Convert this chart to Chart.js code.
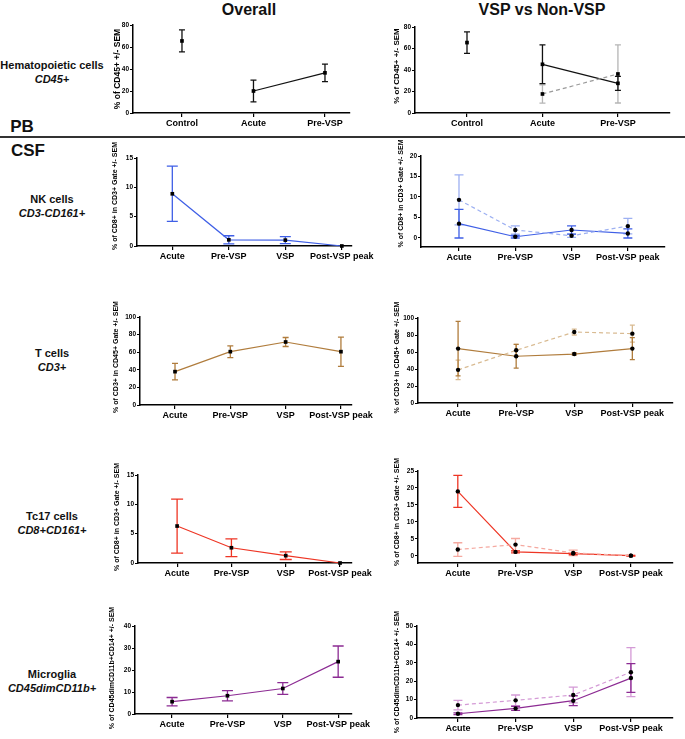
<!DOCTYPE html>
<html><head><meta charset="utf-8">
<script src="https://cdn.jsdelivr.net/npm/chart.js@4/dist/chart.umd.min.js"></script>
<style>
body{margin:0;background:#fff;width:685px;height:739px;position:relative;overflow:hidden;font-family:"Liberation Sans",Arial,sans-serif;}
canvas{position:absolute;}
.lbl{position:absolute;transform:translate(-50%,-50%);text-align:center;white-space:nowrap;font-weight:bold;color:#111;}
.row{font-size:11px;line-height:13.5px;}
.row i{font-style:italic;}
</style></head><body>
<div class="lbl" style="left:249px;top:10px;font-size:16px">Overall</div>
<div class="lbl" style="left:542px;top:10px;font-size:16px">VSP vs Non-VSP</div>
<div class="lbl row" style="left:52px;top:72px">Hematopoietic cells<br><i>CD45+</i></div>
<div class="lbl" style="left:22px;top:127px;font-size:17px">PB</div>
<div style="position:absolute;left:0;top:136px;width:685px;height:1.5px;background:#333"></div>
<div class="lbl" style="left:28px;top:151px;font-size:17px">CSF</div>
<div class="lbl row" style="left:52px;top:206px">NK cells<br><i>CD3-CD161+</i></div>
<div class="lbl row" style="left:52px;top:360px">T cells<br><i>CD3+</i></div>
<div class="lbl row" style="left:52px;top:523px">Tc17 cells<br><i>CD8+CD161+</i></div>
<div class="lbl row" style="left:52px;top:681px">Microglia<br><i>CD45dimCD11b+</i></div>
<script>
// ---------- DATA ----------
const pbCategories = ['Control', 'Acute', 'Pre-VSP'];
const csfCategories = ['Acute', 'Pre-VSP', 'VSP', 'Post-VSP peak'];

const pbTicks = [0, 20, 40, 60, 80];
const nkOverallTicks = [0, 5, 10, 15];
const nkVspTicks = [0, 5, 10, 15, 20];
const tTicks = [0, 20, 40, 60, 80, 100];
const tc17OverallTicks = [0, 5, 10, 15];
const tc17VspTicks = [0, 5, 10, 15, 20, 25];
const microOverallTicks = [0, 10, 20, 30, 40];
const microVspTicks = [0, 10, 20, 30, 40, 50];

// PB hematopoietic cells (CD45+)
const pbControlMean = [65.5, null, null];
const pbControlSem = [10, null, null];
const pbOverallMean = [null, 20, 36.5];
const pbOverallSem = [null, 9.8, 8];
const pbVspMean = [null, 45.3, 27.6];
const pbVspSem = [null, 18, 6.5];
const pbNonVspMean = [null, 17.7, 36.3];
const pbNonVspSem = [null, 8.5, 27];

// CSF NK cells
const nkOverallMean = [8.9, 1.05, 1.0, 0];
const nkOverallSem = [4.7, 0.7, 0.6, 0];
const nkVspMean = [3.5, 0.3, 1.95, 1.1];
const nkVspSem = [3.5, 0.3, 1.0, 1.1];
const nkNonVspMean = [9.3, 1.95, 0.55, 2.9];
const nkNonVspSem = [6.1, 1.0, 0.4, 1.9];

// CSF T cells
const tOverallMean = [37.9, 60.6, 71.6, 60.6];
const tOverallSem = [9.3, 6.7, 5.1, 16.6];
const tVspMean = [64, 55, 57.6, 64];
const tVspSem = [32, 14, 1.2, 13];
const tNonVspMean = [39, 62, 83.5, 81.6];
const tNonVspSem = [11.5, 7, 3.5, 10];

// CSF Tc17 cells
const tc17OverallMean = [6.3, 2.6, 1.25, 0];
const tc17OverallSem = [4.6, 1.5, 0.65, 0];
const tc17VspMean = [19, 1.2, 0.7, 0.1];
const tc17VspSem = [4.7, 0.3, 0.3, 0.1];
const tc17NonVspMean = [1.9, 3.35, 0.9, 0.1];
const tc17NonVspSem = [2.0, 1.8, 0.8, 0.1];

// CSF Microglia
const microOverallMean = [5.6, 8.3, 11.6, 23.8];
const microOverallSem = [1.9, 2.3, 2.7, 7.1];
const microVspMean = [2.3, 5.2, 9.4, 21.7];
const microVspSem = [0.5, 1.1, 2.7, 7.8];
const microNonVspMean = [7.0, 9.6, 12.5, 24.9];
const microNonVspSem = [2.6, 2.9, 4.3, 13.3];

// ---------- RENDERING ----------
const FONT = '"Liberation Sans", Arial, sans-serif';
Chart.defaults.font.family = FONT;
Chart.defaults.color = '#000';

const errorBars = {
  id: 'errorBars',
  beforeDatasetsDraw(chart, args, opts) {
    const ctx = chart.ctx, ys = chart.scales.y;
    chart.data.datasets.forEach((ds, di) => {
      const meta = chart.getDatasetMeta(di);
      meta.data.forEach((pt, j) => {
        const raw = ds.data[j];
        if (!raw || !raw.e) return;
        const yTop = ys.getPixelForValue(raw.y + raw.e);
        const yBot = ys.getPixelForValue(raw.y - raw.e);
        const x = pt.x, c = opts.cap / 2;
        ctx.save();
        ctx.strokeStyle = ds.errColor;
        ctx.lineWidth = 1.3;
        ctx.beginPath();
        ctx.moveTo(x, yTop); ctx.lineTo(x, yBot);
        ctx.moveTo(x - c, yTop); ctx.lineTo(x + c, yTop);
        ctx.moveTo(x - c, yBot); ctx.lineTo(x + c, yBot);
        ctx.stroke();
        ctx.restore();
      });
    });
  }
};

const yTitle = {
  id: 'yTitle',
  afterDraw(chart, args, o) {
    const ca = chart.chartArea, ctx = chart.ctx;
    ctx.save();
    ctx.translate(ca.left - o.off, (ca.top + ca.bottom) / 2 + (o.dy || 0));
    ctx.rotate(-Math.PI / 2);
    ctx.font = 'bold ' + o.size + 'px ' + FONT;
    ctx.fillStyle = '#000';
    ctx.textAlign = 'center';
    ctx.textBaseline = 'middle';
    ctx.fillText(o.text, 0, 0);
    ctx.restore();
  }
};

function series(mean, sem, color, errColor, opts) {
  opts = opts || {};
  return {
    data: mean.map((v, i) => ({ x: i, y: v, e: sem[i] })).filter(p => p.y !== null),
    borderColor: color,
    errColor: errColor,
    borderWidth: 1.2,
    borderDash: opts.dashed ? [4, 3] : [],
    showLine: opts.line !== false,
    pointStyle: opts.style || 'rect',
    pointRadius: opts.radius || 2.6,
    pointBackgroundColor: '#000',
    pointBorderColor: '#000',
    pointBorderWidth: 0,
    tension: 0,
    clip: false
  };
}

function panel(g, s) {
  const XH = 20, PT = 30, PBOT = 25, PL = 10, YW = 20;
  const cv = document.createElement('canvas');
  const w = PL + YW + (g.endX - g.axisX) + g.padR;
  const h = PT + (g.bottomY - g.topY) + XH + PBOT;
  cv.width = w; cv.height = h;
  cv.style.left = (g.axisX - YW - PL) + 'px';
  cv.style.top = (g.topY - PT) + 'px';
  cv.style.width = w + 'px'; cv.style.height = h + 'px';
  document.body.appendChild(cv);
  const cats = s.cats;
  new Chart(cv, {
    type: 'line',
    data: { datasets: s.datasets },
    plugins: [errorBars, yTitle],
    options: {
      responsive: false, animation: false, devicePixelRatio: 1,
      layout: { padding: { top: PT, right: g.padR, bottom: PBOT, left: PL } },
      plugins: {
        legend: { display: false }, tooltip: { enabled: false },
        errorBars: { cap: s.cap },
        yTitle: { text: s.yTitle, size: s.titleSize || 7, off: g.titleOff, dy: g.titleDy || 0 }
      },
      scales: {
        x: {
          type: 'linear', min: s.xMin, max: s.xMax,
          afterBuildTicks: sc => { sc.ticks = cats.map((c, i) => ({ value: i })); },
          afterFit: sc => { sc.height = XH; },
          ticks: { callback: v => cats[v], font: { size: 9, weight: 'bold' }, color: '#000', padding: 1, autoSkip: false, maxRotation: 0, minRotation: 0 },
          grid: { display: true, drawOnChartArea: false, drawTicks: true, tickLength: 4, color: '#000', lineWidth: 1.2 },
          border: { display: true, color: '#000', width: 1.5 }
        },
        y: {
          type: 'linear', min: s.yMin, max: s.yMax,
          afterBuildTicks: sc => { sc.ticks = s.yTicks.map(v => ({ value: v })); },
          afterFit: sc => { sc.width = YW; },
          ticks: { font: { size: 6.5, weight: 'bold' }, color: '#000', padding: 1 },
          grid: { display: true, drawOnChartArea: false, drawTicks: true, tickLength: 3, color: '#000', lineWidth: 1 },
          border: { display: true, color: '#000', width: 1.5 }
        }
      }
    }
  });
}

const BLACK = '#111', GRAY = '#9a9a9a', GRAYE = '#b5b5b5';
const BLUE = '#3f5fe6', LBLUE = '#9db0f2';
const TAN = '#b07c3c', LTAN = '#d9bb92';
const RED = '#ee3524', LRED = '#f5a9a0';
const PUR = '#8c2b93', LPUR = '#d49ad6';

// PB Overall
panel({ axisX: 133, endX: 350, topY: 25, bottomY: 113, titleOff: 15, padR: 20 }, {
  cats: pbCategories, xMin: -0.685, xMax: 2.35, yMin: 0, yMax: 80, yTicks: pbTicks, cap: 6, titleSize: 8.5,
  yTitle: '% of CD45+ +/- SEM',
  datasets: [
    series(pbControlMean, pbControlSem, BLACK, BLACK, { line: false }),
    series(pbOverallMean, pbOverallSem, BLACK, BLACK)
  ]
});
// PB VSP vs Non-VSP
panel({ axisX: 415, endX: 670, topY: 27, bottomY: 113, titleOff: 18, padR: 10, titleDy: -4 }, {
  cats: pbCategories, xMin: -0.689, xMax: 2.69, yMin: 0, yMax: 80, yTicks: pbTicks, cap: 6, titleSize: 8,
  yTitle: '% of CD45+ +/- SEM',
  datasets: [
    series(pbControlMean, pbControlSem, BLACK, BLACK, { line: false }),
    series(pbNonVspMean, pbNonVspSem, GRAY, GRAYE, { dashed: true }),
    series(pbVspMean, pbVspSem, BLACK, BLACK)
  ]
});
// NK Overall
panel({ axisX: 137, endX: 352, topY: 158, bottomY: 246, titleOff: 22, padR: 30, titleDy: -6 }, {
  cats: csfCategories, xMin: -0.625, xMax: 3.18, yMin: 0, yMax: 15, yTicks: nkOverallTicks, cap: 11,
  yTitle: '% of CD8+ in CD3+ Gate +/- SEM',
  datasets: [series(nkOverallMean, nkOverallSem, BLUE, BLUE)]
});
// NK VSP
panel({ axisX: 421, endX: 665, topY: 156, bottomY: 247, titleOff: 20, padR: 10, titleDy: -8 }, {
  cats: csfCategories, xMin: -0.675, xMax: 3.66, yMin: -2.2, yMax: 20, yTicks: nkVspTicks, cap: 9,
  yTitle: '% of CD8+ in CD3+ Gate +/- SEM',
  datasets: [
    series(nkNonVspMean, nkNonVspSem, LBLUE, LBLUE, { dashed: true, style: 'circle', radius: 2.2 }),
    series(nkVspMean, nkVspSem, BLUE, BLUE, { style: 'circle', radius: 2.2 })
  ]
});
// T Overall
panel({ axisX: 140, endX: 352, topY: 317, bottomY: 405, titleOff: 24, padR: 30, titleDy: -4 }, {
  cats: csfCategories, xMin: -0.633, xMax: 3.2, yMin: 0, yMax: 100, yTicks: tTicks, cap: 6,
  yTitle: '% of CD3+ in CD45+ Gate +/- SEM',
  datasets: [series(tOverallMean, tOverallSem, TAN, TAN)]
});
// T VSP
panel({ axisX: 418, endX: 673, topY: 318, bottomY: 403, titleOff: 21, padR: 10, titleDy: -3 }, {
  cats: csfCategories, xMin: -0.69, xMax: 3.7, yMin: 0, yMax: 100, yTicks: tTicks, cap: 5,
  yTitle: '% of CD3+ in CD45+ Gate +/- SEM',
  datasets: [
    series(tNonVspMean, tNonVspSem, LTAN, LTAN, { dashed: true, style: 'circle', radius: 2.2 }),
    series(tVspMean, tVspSem, TAN, TAN, { style: 'circle', radius: 2.2 })
  ]
});
// Tc17 Overall
panel({ axisX: 138, endX: 352, topY: 475, bottomY: 563, titleOff: 21, padR: 30, titleDy: -2 }, {
  cats: csfCategories, xMin: -0.72, xMax: 3.22, yMin: 0, yMax: 15, yTicks: tc17OverallTicks, cap: 12,
  yTitle: '% of CD8+ in CD3+ Gate +/- SEM',
  datasets: [series(tc17OverallMean, tc17OverallSem, RED, RED)]
});
// Tc17 VSP
panel({ axisX: 418, endX: 673, topY: 471, bottomY: 563, titleOff: 21, padR: 10, titleDy: -5 }, {
  cats: csfCategories, xMin: -0.69, xMax: 3.73, yMin: -2.06, yMax: 25, yTicks: tc17VspTicks, cap: 9,
  yTitle: '% of CD8+ in CD3+ Gate +/- SEM',
  datasets: [
    series(tc17NonVspMean, tc17NonVspSem, LRED, LRED, { dashed: true, style: 'circle', radius: 2.2 }),
    series(tc17VspMean, tc17VspSem, RED, RED, { style: 'circle', radius: 2.2 })
  ]
});
// Microglia Overall
panel({ axisX: 135, endX: 352, topY: 626, bottomY: 714, titleOff: 23, padR: 30, titleDy: -2 }, {
  cats: csfCategories, xMin: -0.67, xMax: 3.25, yMin: 0, yMax: 40, yTicks: microOverallTicks, cap: 11,
  yTitle: '% of CD45dimCD11b+CD14+ +/- SEM',
  datasets: [series(microOverallMean, microOverallSem, PUR, PUR)]
});
// Microglia VSP
panel({ axisX: 417, endX: 673, topY: 626, bottomY: 718, titleOff: 20, padR: 10 }, {
  cats: csfCategories, xMin: -0.71, xMax: 3.73, yMin: 0, yMax: 50, yTicks: microVspTicks, cap: 9,
  yTitle: '% of CD45dimCD11b+CD14+ +/- SEM',
  datasets: [
    series(microNonVspMean, microNonVspSem, LPUR, LPUR, { dashed: true, style: 'circle', radius: 2.2 }),
    series(microVspMean, microVspSem, PUR, PUR, { style: 'circle', radius: 2.2 })
  ]
});
</script>
</body></html>
